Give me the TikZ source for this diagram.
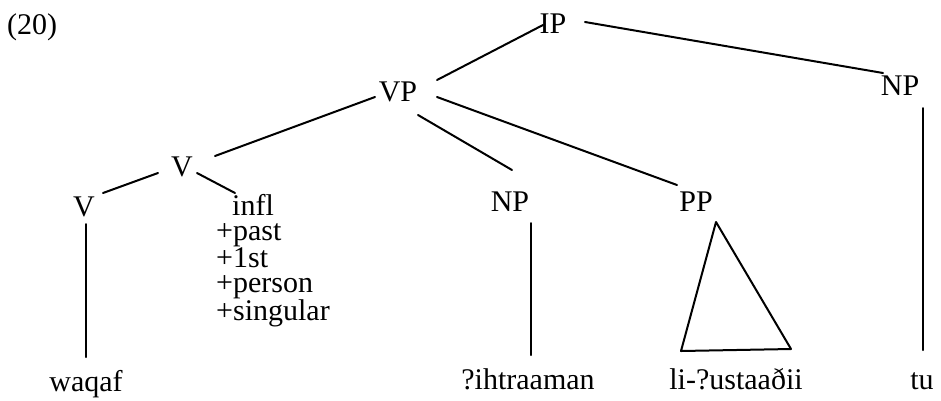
\documentclass[tikz,border=0pt]{standalone}
\usepackage{fontspec}
\setmainfont{Liberation Serif}
\begin{document}
\begin{tikzpicture}[x=1pt,y=-1pt,
  lbl/.style={inner sep=0pt,font=\fontsize{30}{25}\selectfont},
  edge/.style={line width=2pt,line cap=round}]
\useasboundingbox[fill=white] (0,0) rectangle (941,400);
\node[lbl,anchor=west] (ex) at (7,27) {(20)};
\node[lbl] (IP) at (553,24) {IP};
\node[lbl] (NPr) at (900,86) {NP};
\node[lbl] (VP) at (398,92) {VP};
\node[lbl] (Vm) at (182,167) {V};
\node[lbl] (Vl) at (84,207) {V};
\node[lbl,anchor=north west,align=left] (infl) at (216,194) {\hspace{16pt}infl\\+past\\+1st\\+person\\+singular};
\node[lbl] (NPm) at (510,202) {NP};
\node[lbl] (PP) at (696,202) {PP};
\node[lbl,anchor=base] (waqaf) at (86,391) {waqaf};
\node[lbl,anchor=base] (ihtr) at (528,389) {?ihtraaman};
\node[lbl,anchor=base] (li) at (736,389) {li-?ustaaðii};
\node[lbl,anchor=base] (tu) at (922,389) {tu};
% connectors
\draw[edge] ([shift={(39,-12)}]VP.center) -- ([shift={(-10,1)}]IP.center);
\draw[edge] ([shift={(32,-2)}]IP.center) -- ([shift={(-17,-13)}]NPr.center);
\draw[edge] ([shift={(-23,5)}]VP.center) -- ([shift={(33,-11)}]Vm.center);
\draw[edge] ([shift={(20,23)}]VP.center) -- ([shift={(2,-32)}]NPm.center);
\draw[edge] ([shift={(39,5)}]VP.center) -- ([shift={(-19,-17)}]PP.center);
\draw[edge] ([shift={(-24,6)}]Vm.center) -- ([shift={(19,-14)}]Vl.center);
\draw[edge] ([shift={(15,6)}]Vm.center) -- ([shift={(19,-1)}]infl.north west);
\draw[edge] ([shift={(2,17)}]Vl.center) -- ([shift={(0,-34)}]waqaf.base);
\draw[edge] ([shift={(21,21)}]NPm.center) -- ([shift={(3,-34)}]ihtr.base);
\draw[edge] ([shift={(23,22)}]NPr.center) -- ([shift={(1,-39)}]tu.base);
\draw[edge,line join=round] ([shift={(20,20)}]PP.center) -- ([shift={(-55,-38)}]li.base) -- ([shift={(55,-40)}]li.base) -- cycle;
\end{tikzpicture}
\end{document}
